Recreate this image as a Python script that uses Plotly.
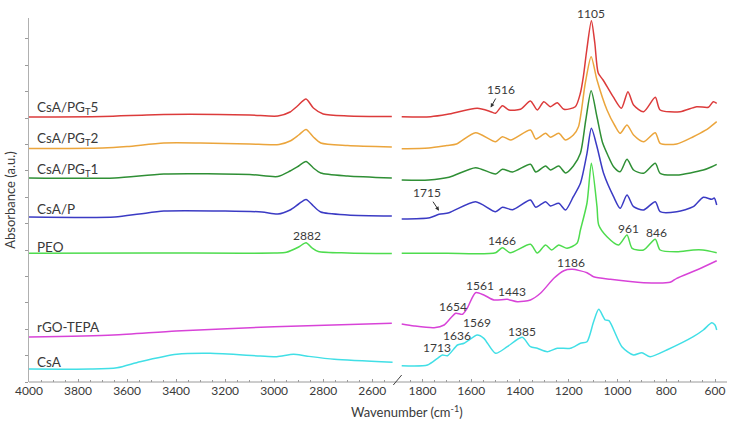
import plotly.graph_objects as go

# ---------------- data (absorbance, arbitrary units, already offset) ----------------
# high-wavenumber segment (4000-2500 cm-1)
pgt5_wn_hi = [4000, 3700, 3450, 3100, 2985, 2935, 2905, 2870, 2840, 2800, 2700, 2520]
pgt5_ab_hi = [2.65, 2.655, 2.675, 2.67, 2.66, 2.70, 2.76, 2.83, 2.74, 2.68, 2.66, 2.655]
pgt2_wn_hi = [4000, 3700, 3600, 3450, 3300, 3100, 2980, 2935, 2900, 2870, 2840, 2810, 2700, 2520]
pgt2_ab_hi = [2.335, 2.34, 2.355, 2.39, 2.39, 2.38, 2.375, 2.41, 2.47, 2.525, 2.45, 2.39, 2.365, 2.35]
pgt1_wn_hi = [4000, 3650, 3450, 3100, 2985, 2935, 2900, 2870, 2840, 2810, 2700, 2520]
pgt1_ab_hi = [2.04, 2.04, 2.08, 2.075, 2.055, 2.11, 2.16, 2.205, 2.14, 2.09, 2.06, 2.04]
csap_wn_hi = [4000, 3650, 3550, 3450, 3200, 3050, 2985, 2935, 2900, 2870, 2840, 2810, 2700, 2520]
csap_ab_hi = [1.65, 1.65, 1.68, 1.71, 1.71, 1.70, 1.68, 1.72, 1.78, 1.825, 1.76, 1.70, 1.67, 1.66]
peo_wn_hi = [4000, 3500, 3000, 2950, 2900, 2870, 2845, 2820, 2700, 2520]
peo_ab_hi = [1.287, 1.29, 1.29, 1.297, 1.35, 1.393, 1.34, 1.305, 1.29, 1.285]
rgo_wn_hi = [4000, 3656, 3400, 3000, 2520]
rgo_ab_hi = [0.45, 0.47, 0.51, 0.553, 0.587]
csa_wn_hi = [4000, 3750, 3641, 3547, 3397, 3261, 3057, 2989, 2921, 2870, 2755, 2517]
csa_ab_hi = [0.13, 0.13, 0.143, 0.203, 0.277, 0.287, 0.26, 0.253, 0.277, 0.26, 0.227, 0.197]

# low-wavenumber segment (1890-550 cm-1)
pgt5_wn_lo = [1885, 1766, 1697, 1575, 1520, 1500, 1472, 1445, 1398, 1357, 1329, 1302, 1275, 1247,
              1220, 1173, 1152, 1140, 1126, 1107, 1093, 1079, 1059, 1018, 984, 957, 934, 893, 845,
              825, 743, 675, 627, 607, 593]
pgt5_ab_lo = [2.653, 2.653, 2.677, 2.737, 2.703, 2.687, 2.763, 2.72, 2.727, 2.81, 2.72, 2.803, 2.753,
              2.793, 2.727, 2.753, 2.89, 3.053, 3.32, 3.613, 3.39, 3.09, 3.02, 2.853, 2.737, 2.903,
              2.77, 2.703, 2.847, 2.72, 2.703, 2.753, 2.747, 2.803, 2.787]
pgt2_wn_lo = [1885, 1774, 1700, 1660, 1582, 1500, 1472, 1438, 1357, 1335, 1295, 1275, 1241, 1213,
              1181, 1160, 1132, 1108, 1084, 1043, 1010, 989, 961, 934, 893, 845, 825, 757, 689, 662,
              627, 593]
pgt2_ab_lo = [2.333, 2.34, 2.365, 2.38, 2.493, 2.403, 2.453, 2.42, 2.52, 2.43, 2.487, 2.447, 2.487,
              2.42, 2.47, 2.553, 2.99, 3.253, 3.02, 2.72, 2.56, 2.487, 2.57, 2.47, 2.403, 2.493,
              2.387, 2.38, 2.453, 2.487, 2.537, 2.603]
pgt1_wn_lo = [1885, 1774, 1691, 1582, 1500, 1472, 1430, 1357, 1335, 1295, 1275, 1241, 1213, 1181,
              1152, 1130, 1108, 1084, 1062, 1040, 1016, 989, 961, 934, 893, 845, 825, 757, 648, 613,
              593]
pgt1_ab_lo = [2.02, 2.02, 2.047, 2.143, 2.08, 2.127, 2.10, 2.177, 2.10, 2.16, 2.12, 2.16, 2.09, 2.16,
              2.287, 2.62, 2.913, 2.65, 2.40, 2.27, 2.153, 2.103, 2.227, 2.12, 2.087, 2.187, 2.087,
              2.07, 2.12, 2.153, 2.177]
csap_wn_lo = [1885, 1770, 1732, 1691, 1582, 1500, 1472, 1430, 1357, 1335, 1295, 1275, 1241, 1213,
              1181, 1152, 1125, 1107, 1084, 1057, 1016, 989, 961, 934, 893, 845, 825, 757, 689, 648,
              613, 603, 593]
csap_ab_lo = [1.63, 1.643, 1.677, 1.693, 1.803, 1.703, 1.747, 1.723, 1.82, 1.747, 1.803, 1.76, 1.787,
              1.72, 1.853, 1.987, 2.287, 2.537, 2.353, 2.087, 1.853, 1.737, 1.87, 1.753, 1.72, 1.803,
              1.703, 1.703, 1.753, 1.847, 1.827, 1.84, 1.77]
peo_wn_lo = [1885, 1700, 1500, 1472, 1440, 1357, 1329, 1295, 1270, 1241, 1207, 1166, 1152, 1125,
             1107, 1084, 1077, 1043, 995, 961, 940, 893, 845, 825, 757, 689, 650, 593]
peo_ab_lo = [1.287, 1.287, 1.293, 1.343, 1.293, 1.377, 1.29, 1.37, 1.32, 1.37, 1.337, 1.387, 1.52,
             1.79, 2.187, 1.753, 1.57, 1.453, 1.37, 1.47, 1.337, 1.32, 1.427, 1.32, 1.303, 1.32,
             1.32, 1.293]
rgo_wn_lo = [1885, 1834, 1752, 1711, 1684, 1663, 1636, 1616, 1582, 1548, 1507, 1452, 1411, 1357,
             1316, 1261, 1220, 1186, 1125, 1098, 1029, 893, 784, 757, 675, 593]
rgo_ab_lo = [0.58, 0.56, 0.543, 0.57, 0.64, 0.687, 0.677, 0.74, 0.893, 0.87, 0.82, 0.827, 0.803,
             0.82, 0.887, 1.037, 1.113, 1.127, 1.093, 1.053, 1.027, 0.993, 0.997, 1.037, 1.12, 1.213]
csa_wn_lo = [1885, 1779, 1738, 1718, 1697, 1656, 1629, 1575, 1548, 1500, 1452, 1391, 1357, 1329,
             1288, 1247, 1193, 1152, 1125, 1098, 1077, 1050, 1035, 982, 934, 900, 866, 798, 689,
             648, 613, 600, 593]
csa_ab_lo = [0.163, 0.17, 0.237, 0.27, 0.263, 0.37, 0.387, 0.47, 0.437, 0.287, 0.353, 0.447, 0.353,
             0.337, 0.303, 0.337, 0.337, 0.387, 0.403, 0.603, 0.727, 0.62, 0.613, 0.353, 0.27, 0.293,
             0.253, 0.32, 0.453, 0.52, 0.593, 0.57, 0.52]

series_names = ["CsA/PG<sub>T</sub>5", "CsA/PG<sub>T</sub>2", "CsA/PG<sub>T</sub>1", "CsA/P",
                "PEO", "rGO-TEPA", "CsA"]
series_label_y = [2.74, 2.43, 2.12, 1.73, 1.355, 0.55, 0.20]
series_colors = ["#dc3b3b", "#eba53c", "#2f8f35", "#3b3bc4", "#4edc4e", "#d843d8", "#41dfe6"]

peak_labels = ["1466", "961", "846", "1186", "1561", "1443", "1654", "1569", "1636",
               "1385", "1713"]
peak_x = [1472, 954, 841, 1190, 1564, 1434, 1673, 1575, 1659, 1391, 1741]
peak_y = [1.42, 1.537, 1.493, 1.197, 0.97, 0.903, 0.76, 0.593, 0.47, 0.51, 0.347]

x_ticks_hi = [4000, 3800, 3600, 3400, 3200, 3000, 2800, 2600]
x_ticks_lo = [1800, 1600, 1400, 1200, 1000, 800, 600]

hi = [(pgt5_wn_hi, pgt5_ab_hi), (pgt2_wn_hi, pgt2_ab_hi), (pgt1_wn_hi, pgt1_ab_hi),
      (csap_wn_hi, csap_ab_hi), (peo_wn_hi, peo_ab_hi), (rgo_wn_hi, rgo_ab_hi), (csa_wn_hi, csa_ab_hi)]
lo = [(pgt5_wn_lo, pgt5_ab_lo), (pgt2_wn_lo, pgt2_ab_lo), (pgt1_wn_lo, pgt1_ab_lo),
      (csap_wn_lo, csap_ab_lo), (peo_wn_lo, peo_ab_lo), (rgo_wn_lo, rgo_ab_lo), (csa_wn_lo, csa_ab_lo)]

# ---------------- figure ----------------
W, H = 735, 425
ML, MR, MT, MB = 29, 8, 18, 43
PW, PH = W - ML - MR, H - MT - MB

def px(x):
    return (x - ML) / PW

def py(y):
    return (H - MB - y) / PH

fig = go.Figure()
for i, name in enumerate(series_names):
    c = series_colors[i]
    fig.add_trace(go.Scatter(x=hi[i][0], y=hi[i][1], xaxis="x", yaxis="y", mode="lines",
                             line=dict(color=c, width=1.5, shape="spline", smoothing=0.7),
                             name=name, legendgroup=name, showlegend=False, hoverinfo="skip"))
    fig.add_trace(go.Scatter(x=lo[i][0], y=lo[i][1], xaxis="x2", yaxis="y", mode="lines",
                             line=dict(color=c, width=1.5, shape="spline", smoothing=0.7),
                             name=name, legendgroup=name, showlegend=False, hoverinfo="skip"))

TXT = "#3a3a3a"
FONT = "Lato, 'Open Sans', sans-serif"
axis_common = dict(showgrid=False, zeroline=False, showline=False, ticks="inside", ticklen=3,
                   tickwidth=1, tickcolor="#9a9a9a", tickfont=dict(size=12, color=TXT, family=FONT),
                   minor=dict(dtick=50, ticks="inside", ticklen=2, tickcolor="#9a9a9a"))

fig.update_layout(
    width=W, height=H, margin=dict(l=ML, r=MR, t=MT, b=MB, autoexpand=False),
    paper_bgcolor="white", plot_bgcolor="white", showlegend=False,
    font=dict(family=FONT, color=TXT),
    xaxis=dict(domain=[0, px(396)], range=[4000, 2503], tickvals=x_ticks_hi,
               anchor="y", **axis_common),
    xaxis2=dict(domain=[px(400), 1], range=[1892, 550.8], tickvals=x_ticks_lo,
                anchor="y", **axis_common),
    yaxis=dict(range=[0, 3.64], tick0=0, dtick=0.264, showticklabels=False, showgrid=False,
               zeroline=False, showline=True, linecolor="#b0b0b0", linewidth=1,
               ticks="outside", ticklen=3, tickcolor="#9a9a9a",
               title=dict(text="Absorbance (a.u.)", font=dict(size=13, color=TXT, family=FONT),
                          standoff=6)),
)

shapes = [
    # continuous bottom axis line
    dict(type="line", xref="paper", yref="paper", x0=0, x1=1, y0=0, y1=0,
         line=dict(color="#9a9a9a", width=1)),
    # axis break mark
    dict(type="line", xref="paper", yref="paper", x0=px(393.3), y0=py(385), x1=px(401.7), y1=py(375),
         line=dict(color="#444444", width=1)),
]
fig.update_layout(shapes=shapes)

ann = []
for name, yv in zip(series_names, series_label_y):
    ann.append(dict(x=px(35), y=yv, xref="paper", yref="y", text=name, showarrow=False,
                    xanchor="left", yanchor="middle", font=dict(size=13.5, color=TXT, family=FONT)))
for t, xv, yv in zip(peak_labels, peak_x, peak_y):
    ann.append(dict(x=xv, y=yv, xref="x2", yref="y", text=t, showarrow=False,
                    yanchor="middle", font=dict(size=12, color=TXT, family=FONT)))
ann.append(dict(x=1107, y=py(13), xref="x2", yref="paper", text="1105", showarrow=False,
                yanchor="middle", font=dict(size=12, color=TXT, family=FONT)))
ann.append(dict(x=2866, y=1.47, xref="x", yref="y", text="2882", showarrow=False,
                yanchor="middle", font=dict(size=12, color=TXT, family=FONT)))
# arrow-labelled peaks
ann.append(dict(x=1520, y=2.745, xref="x2", yref="y", text="1516", showarrow=True,
                ax=10, ay=-18, arrowhead=2, arrowsize=0.8, arrowwidth=1, arrowcolor="#333",
                font=dict(size=12, color=TXT, family=FONT)))
ann.append(dict(x=1732, y=1.713, xref="x2", yref="y", text="1715", showarrow=True,
                ax=-12, ay=-18, arrowhead=2, arrowsize=0.8, arrowwidth=1, arrowcolor="#333",
                font=dict(size=12, color=TXT, family=FONT)))
ann.append(dict(x=px(407), y=py(411), xref="paper", yref="paper", yanchor="middle",
                text="Wavenumber (cm<sup>-1</sup>)", showarrow=False,
                font=dict(size=13, color=TXT, family=FONT)))
fig.update_layout(annotations=ann)

fig.write_html("out.html", config={"displayModeBar": False},
               post_script="document.body.style.margin='0px';")
